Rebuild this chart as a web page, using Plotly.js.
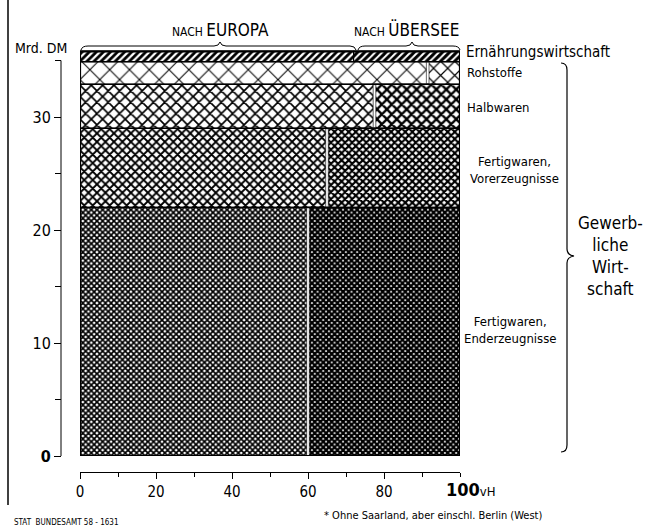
<!DOCTYPE html>
<html><head><meta charset="utf-8">
<script src="https://cdn.plot.ly/plotly-3.0.1.min.js"></script>
<style>html,body{margin:0;padding:0;background:#fff}</style>
</head><body><div id="chart" style="width:646px;height:528px"></div>
<script>
// Data (Ausfuhr, Mrd. DM; Anteil nach Europa in vH)
const categories = ['Fertigwaren, Enderzeugnisse', 'Fertigwaren, Vorerzeugnisse', 'Halbwaren', 'Rohstoffe', 'Ernährungswirtschaft'];
const totals = [22.0, 7.0, 3.9, 2.0, 0.9];
const europaShare = [60, 65, 77.5, 91.5, 72];
const xTickVals = [0, 20, 40, 60, 80];
const xTickText = ['0', '20', '40', '60', '80'];
const yTickVals = [0, 10, 20, 30];
const yTickText = ['<b>0</b>', '10', '20', '30'];

const W = 646, H = 528;
const FONT = '"DejaVu Sans Condensed", "DejaVu Sans", sans-serif';
const px = x => x / W, py = y => 1 - y / H;

// band layout built from data
const bases = [];
let acc = 0;
totals.forEach(t => { bases.push(acc); acc += t; });
const grandTotal = acc;
const centers = totals.map((t, i) => bases[i] + t / 2);
const ueberseeShare = europaShare.map(s => 100 - s);

const europa = {
  type: 'bar', orientation: 'h', name: 'nach Europa',
  y: centers, x: europaShare, base: europaShare.map(() => 0), width: totals,
  customdata: categories,
  marker: {
    color: 'white',
    line: {color: 'black', width: 1.2},
    pattern: {
      shape: ['x', 'x', 'x', 'x', '/'],
      size: [4, 6, 8, 14, 5],
      solidity: [0.66, 0.52, 0.38, 0.14, 0.55],
      fgcolor: 'black', bgcolor: 'white', fillmode: 'replace'
    }
  },
  hoverinfo: 'skip', showlegend: false
};
const uebersee = {
  type: 'bar', orientation: 'h', name: 'nach Übersee',
  y: centers, x: ueberseeShare, base: europaShare, width: totals,
  customdata: categories,
  marker: {
    color: 'white',
    line: {color: 'black', width: 1.2},
    pattern: {
      shape: ['x', 'x', 'x', 'x', '/'],
      size: [4, 5, 7, 10, 5],
      solidity: [0.8, 0.66, 0.55, 0.22, 0.6],
      fgcolor: 'black', bgcolor: 'white', fillmode: 'replace'
    }
  },
  hoverinfo: 'skip', showlegend: false
};

const yTop = (456 - 40) / 11.3;

const shapes = [
  // y axis line (0 .. 35)
  {type: 'line', xref: 'paper', yref: 'y', x0: px(61), x1: px(61), y0: 0, y1: 35, line: {color: 'black', width: 1}},
  // left frame line of the page
  {type: 'line', xref: 'paper', yref: 'paper', x0: px(8), x1: px(8), y0: py(0), y1: py(505), line: {color: 'black', width: 1.5}},
  // brace nach Europa
  {type: 'path', xref: 'paper', yref: 'paper', line: {color: 'black', width: 1},
   path: `M${px(81)},${py(50)} Q${px(82)},${py(46)} ${px(88)},${py(46)} L${px(214)},${py(46)} Q${px(219)},${py(46)} ${px(220)},${py(42)} Q${px(221)},${py(46)} ${px(226)},${py(46)} L${px(350)},${py(46)} Q${px(355)},${py(46)} ${px(356)},${py(50)}`},
  // brace nach Übersee
  {type: 'path', xref: 'paper', yref: 'paper', line: {color: 'black', width: 1},
   path: `M${px(358)},${py(50)} Q${px(359)},${py(46)} ${px(365)},${py(46)} L${px(406)},${py(46)} Q${px(411)},${py(46)} ${px(412)},${py(42)} Q${px(413)},${py(46)} ${px(418)},${py(46)} L${px(453)},${py(46)} Q${px(459)},${py(46)} ${px(460)},${py(50)}`},
  // brace Gewerbliche Wirtschaft
  {type: 'path', xref: 'paper', yref: 'paper', line: {color: 'black', width: 1.2},
   path: `M${px(561)},${py(63)} Q${px(567)},${py(63)} ${px(567)},${py(70)} L${px(567)},${py(249)} Q${px(567)},${py(255)} ${px(574)},${py(256)} Q${px(567)},${py(257)} ${px(567)},${py(263)} L${px(567)},${py(445)} Q${px(567)},${py(452)} ${px(561)},${py(452)}`}
];
// white separating gaps at the Europa / Übersee split of each band (except food band)
totals.forEach((t, i) => {
  if (i === totals.length - 1) return;
  shapes.push({type: 'rect', xref: 'x', yref: 'y', layer: 'above',
    x0: europaShare[i] - 0.35, x1: europaShare[i] + 0.35, y0: bases[i] + 0.04, y1: bases[i] + t - 0.04,
    fillcolor: 'white', line: {color: 'black', width: 0.6}});
});
// outer frame of the bar block
shapes.push({type: 'rect', xref: 'x', yref: 'y', x0: 0, x1: 100, y0: 0, y1: grandTotal, line: {color: 'black', width: 2.2}});
// band separators
bases.slice(1).forEach(b => shapes.push({type: 'line', xref: 'x', yref: 'y', x0: 0, x1: 100, y0: b, y1: b, line: {color: 'black', width: 1.4}}));

const ann = (text, x, y, size, opts = {}) => Object.assign({
  text, xref: 'paper', yref: 'paper', x: px(x), y: py(y), showarrow: false,
  xanchor: 'left', yanchor: 'middle', font: {family: FONT, size, color: 'black'}
}, opts);

const annotations = [
  ann('NACH <span style="font-size:17px">EUROPA</span>', 220, 30, 12, {xanchor: 'center'}),
  ann('NACH <span style="font-size:17px">ÜBERSEE</span>', 406, 30, 12, {xanchor: 'center'}),
  ann('Mrd. DM', 13, 48, 14),
  ann('Ernährungswirtschaft', 464, 52, 15),
  ann('Rohstoffe', 465, 72, 13),
  ann('Halbwaren', 465, 107, 13),
  ann('Fertigwaren,<br>Vorerzeugnisse', 514, 170, 13, {xanchor: 'center'}),
  ann('Fertigwaren,<br>Enderzeugnisse', 510, 330, 13, {xanchor: 'center'}),
  ann('Gewerb-<br>liche<br>Wirt-<br>schaft', 610, 256, 17, {xanchor: 'center'}),
  {text: '<b>100</b><span style="font-size:13px">vH</span>', xref: 'x', yref: 'paper', x: 100, y: py(489),
   xanchor: 'left', xshift: -16, yanchor: 'middle', showarrow: false, font: {family: FONT, size: 18, color: 'black'}},
  ann('STAT  BUNDESAMT 58 - 1631', 12, 522, 8),
  ann('* Ohne Saarland, aber einschl. Berlin (West)', 322, 515, 11)
];

const layout = {
  width: W, height: H,
  margin: {l: 0, r: 0, t: 0, b: 0},
  paper_bgcolor: 'white', plot_bgcolor: 'white',
  barmode: 'overlay', bargap: 0,
  font: {family: FONT, color: 'black'},
  xaxis: {
    domain: [px(80), px(460)], range: [0, 100], anchor: 'free', position: py(472),
    tickvals: xTickVals, ticktext: xTickText, ticks: 'outside', ticklen: 6, tickwidth: 1, tickcolor: 'black',
    minor: {dtick: 10, tick0: 0, ticks: 'outside', ticklen: 4, tickcolor: 'black'},
    showline: true, linecolor: 'black', linewidth: 1, showgrid: false, zeroline: false,
    tickfont: {family: FONT, size: 15}, fixedrange: true
  },
  xaxis2: {
    overlaying: 'x', domain: [px(80), px(460)], range: [0, 100], anchor: 'free', position: py(472),
    tickvals: [0, 20, 40, 60, 80, 100], ticks: 'inside', ticklen: 6, tickcolor: 'black', showticklabels: false,
    minor: {dtick: 10, tick0: 0, ticks: 'inside', ticklen: 3, tickcolor: 'black'},
    showline: false, showgrid: false, zeroline: false, fixedrange: true
  },
  yaxis: {
    domain: [py(456), py(40)], range: [0, yTop], anchor: 'free', position: px(61),
    tickvals: yTickVals, ticktext: yTickText, ticks: 'outside', ticklen: 7, tickcolor: 'black',
    minor: {dtick: 5, tick0: 0, ticks: 'outside', ticklen: 6, tickcolor: 'black'},
    showline: false, showgrid: false, zeroline: false,
    tickfont: {family: FONT, size: 16}, fixedrange: true
  },
  yaxis2: {
    overlaying: 'y', domain: [py(456), py(40)], range: [0, yTop], anchor: 'free', position: px(61),
    tickvals: yTickVals, ticks: 'inside', ticklen: 7, tickcolor: 'black', showticklabels: false,
    minor: {dtick: 5, tick0: 0, ticks: 'inside', ticklen: 0, tickcolor: 'black'},
    showline: false, showgrid: false, zeroline: false, fixedrange: true
  },
  shapes, annotations
};

Plotly.newPlot('chart', [europa, uebersee], layout, {displayModeBar: false, staticPlot: true});
</script>
</body></html>
